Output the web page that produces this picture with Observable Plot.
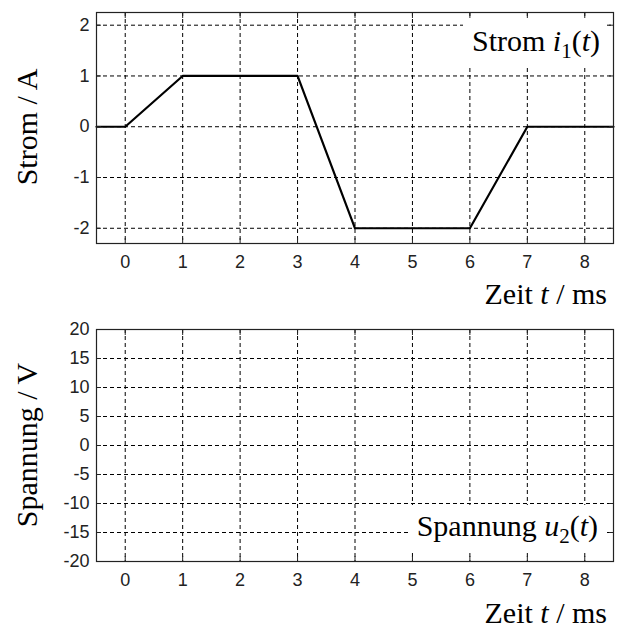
<!DOCTYPE html>
<html>
<head>
<meta charset="utf-8">
<script src="https://cdn.jsdelivr.net/npm/d3@7"></script>
<script src="https://cdn.jsdelivr.net/npm/@observablehq/plot@0.6"></script>
<style>
  body { margin: 0; background: #fff; }
  svg { display: block; }
  svg text.serif, svg text.serif tspan { font-family: "Liberation Serif", "Times New Roman", Times, serif !important; }
</style>
</head>
<body>
<div id="chart"></div>
<script>
// ---- data ----
const time = [-0.5, 0, 1, 3, 4, 6, 7, 8.5];          // ms
const current = [0, 0, 1, 1, -2, -2, 0, 0];            // A
const xTicks = [0, 1, 2, 3, 4, 5, 6, 7, 8];
const currentTicks = [-2, -1, 0, 1, 2];
const voltageTicks = [-20, -15, -10, -5, 0, 5, 10, 15, 20];
const xDomain = [-0.5, 8.5];
const currentDomain = [-2.3, 2.25];
const voltageDomain = [-20, 20];
const currentYLabel = "Strom / A";
const voltageYLabel = "Spannung / V";
const currentLegend = ["Strom ", "i", "1", "(", "t", ")"];
const voltageLegend = ["Spannung ", "u", "2", "(", "t", ")"];
const xLabelParts = ["Zeit ", "t", " / ms"];

const W = 625;
const dash = "4,3";
const FS = 30;

function panel({height, marginTop, marginBottom, yDomain, yTicks, data}) {
  const marks = [
    Plot.gridX(xTicks, {stroke: "black", strokeOpacity: 1, strokeDasharray: dash}),
    Plot.gridY(yTicks, {stroke: "black", strokeOpacity: 1, strokeDasharray: dash})
  ];
  if (data) marks.push(Plot.line(data, {x: "t", y: "v", stroke: "black", strokeWidth: 2.2}));
  marks.push(
    Plot.frame({stroke: "#222", strokeWidth: 1.2}),
    Plot.axisX(xTicks, {anchor: "bottom", tickSize: -5, tickPadding: 17, label: null, tickFormat: d => String(d)}),
    Plot.axisX(xTicks, {anchor: "top", tickSize: -5, label: null, tickFormat: () => ""}),
    Plot.axisY(yTicks, {anchor: "left", tickSize: -5, tickPadding: 12, label: null, tickFormat: d => String(d)}),
    Plot.axisY(yTicks, {anchor: "right", tickSize: -5, label: null, tickFormat: () => ""})
  );
  return Plot.plot({
    width: W,
    height,
    marginLeft: 96,
    marginRight: 12,
    marginTop,
    marginBottom,
    style: {fontFamily: "'Liberation Sans', Arial, sans-serif", fontSize: "18px", color: "#222", background: "#fff"},
    x: {domain: xDomain},
    y: {domain: yDomain},
    marks
  });
}

function richText(svg, parts, attrs, italicIdx, subIdx) {
  const t = d3.select(svg).append("text")
    .attr("class", "serif")
    .style("font-size", FS + "px")
    .attr("fill", "black");
  for (const [k, v] of Object.entries(attrs)) t.attr(k, v);
  parts.forEach((p, i) => {
    const s = t.append("tspan").text(p);
    if (italicIdx.includes(i)) s.style("font-style", "italic");
    if (subIdx.includes(i)) { s.style("font-size", "21px").attr("dy", 7); }
    else if (subIdx.includes(i - 1)) { s.attr("dy", -7); }
  });
  return t;
}

function decorate(svg, {yLabel, legend, legendBox, legendEndX, legendBaseline, xLabelBaseline, legendItalic, legendSub}) {
  const b = legendBox;
  d3.select(svg).append("rect")
    .attr("x", b[0]).attr("y", b[1]).attr("width", b[2]).attr("height", b[3])
    .attr("fill", "white");
  richText(svg, legend, {x: legendEndX, y: legendBaseline, "text-anchor": "end"}, legendItalic, legendSub);
  richText(svg, xLabelParts, {x: 607, y: xLabelBaseline, "text-anchor": "end"}, [1], []);
  const [cx, cy] = yLabel.pos;
  d3.select(svg).append("text")
    .attr("class", "serif")
    .style("font-size", FS + "px").attr("fill", "black")
    .attr("text-anchor", "middle")
    .attr("transform", `translate(${cx},${cy}) rotate(-90)`)
    .text(yLabel.text);
}

const chart = document.getElementById("chart");

const topSvg = panel({
  height: 310, marginTop: 12, marginBottom: 67,
  yDomain: currentDomain, yTicks: currentTicks,
  data: time.map((t, i) => ({t, v: current[i]}))
});
decorate(topSvg, {
  yLabel: {text: currentYLabel, pos: [37, 127]},
  legend: currentLegend, legendBox: [463, 18, 144, 47],
  legendEndX: 600, legendBaseline: 51, xLabelBaseline: 304,
  legendItalic: [1, 4], legendSub: [2]
});
chart.appendChild(topSvg);

const botSvg = panel({
  height: 320, marginTop: 19, marginBottom: 69,
  yDomain: voltageDomain, yTicks: voltageTicks,
  data: null
});
decorate(botSvg, {
  yLabel: {text: voltageYLabel, pos: [37, 135]},
  legend: voltageLegend, legendBox: [410, 195, 194, 48],
  legendEndX: 598, legendBaseline: 226, xLabelBaseline: 313,
  legendItalic: [1, 4], legendSub: [2]
});
chart.appendChild(botSvg);
</script>
</body>
</html>
